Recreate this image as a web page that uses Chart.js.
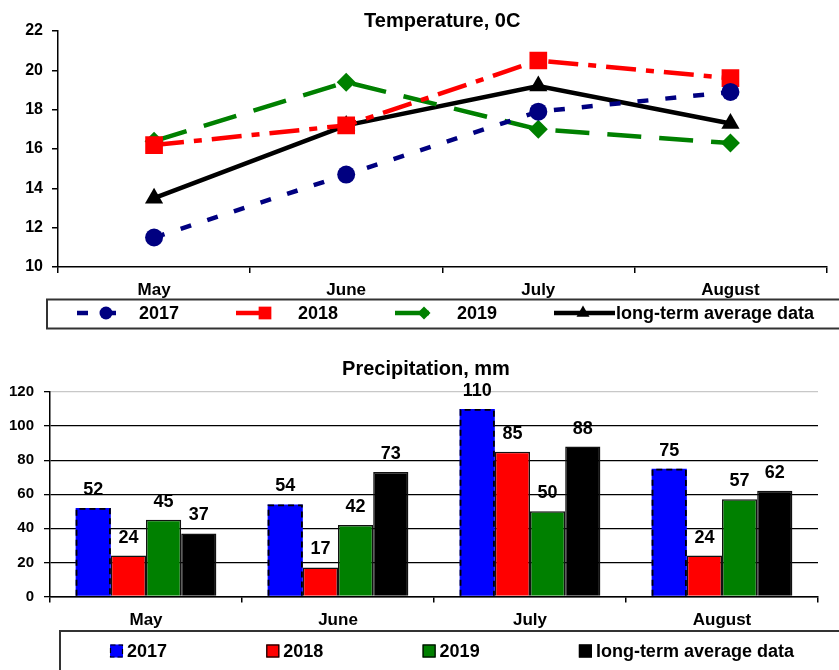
<!DOCTYPE html>
<html>
<head>
<meta charset="utf-8">
<title>Temperature and precipitation, May - August</title>
<script src="https://cdn.jsdelivr.net/npm/chart.js@4.4.1/dist/chart.umd.min.js"></script>
<style>
  body { margin: 0; background: #fff; }
  #wrap { position: relative; width: 839px; height: 670px; overflow: hidden; }
  canvas { position: absolute; left: 0; }
  #tempChart { top: 0; }
  #precChart { top: 340px; }
</style>
</head>
<body>
<div id="wrap">
  <canvas id="tempChart" width="839" height="340"></canvas>
  <canvas id="precChart" width="839" height="330"></canvas>
</div>
<script>
// data
const months = ['May', 'June', 'July', 'August'];
const seriesNames = ['2017', '2018', '2019', 'long-term average data'];

const temp2017 = [11.5, 14.7, 17.9, 18.9];
const temp2018 = [16.2, 17.2, 20.5, 19.6];
const temp2019 = [16.4, 19.4, 17.0, 16.3];
const tempAvg  = [13.5, 17.2, 19.2, 17.3];

const prec2017 = [52, 54, 110, 75];
const prec2018 = [24, 17, 85, 24];
const prec2019 = [45, 42, 50, 57];
const precAvg  = [37, 73, 88, 62];

const FONT = '"Liberation Sans", Arial, Helvetica, sans-serif';
Chart.defaults.font.family = FONT;
Chart.defaults.color = '#000';

// title drawn over the centre of the plot area
const chartTitle = {
    id: 'chartTitle',
    afterDraw(chart, args, opts) {
        const ctx = chart.ctx;
        const area = chart.chartArea;
        ctx.save();
        ctx.font = 'bold 20px ' + FONT;
        ctx.fillStyle = '#000';
        ctx.textAlign = 'center';
        ctx.textBaseline = 'middle';
        ctx.fillText(opts.text, (area.left + area.right) / 2 + (opts.dx || 0), opts.y);
        ctx.restore();
    }
};

// boxed legend under the line chart: line sample + marker + name
const lineLegend = {
    id: 'lineLegend',
    afterDraw(chart) {
        const ctx = chart.ctx;
        const spans = [43, 36, 37, 61];
        const radii = [6.5, 9, 6.5, 7.5];
        const y = 313;
        ctx.save();
        ctx.lineWidth = 2;
        ctx.strokeStyle = '#333';
        ctx.strokeRect(47, 299.5, 820, 29);
        chart.data.datasets.forEach((ds, i) => {
            const x0 = 77 + i * 159;
            ctx.setLineDash(ds.borderDash || []);
            ctx.lineWidth = ds.borderWidth;
            ctx.strokeStyle = ds.borderColor;
            ctx.beginPath();
            ctx.moveTo(x0, y);
            ctx.lineTo(x0 + spans[i], y);
            ctx.stroke();
            ctx.setLineDash([]);
            ctx.fillStyle = ds.borderColor;
            Chart.helpers.drawPoint(ctx, {pointStyle: ds.pointStyle, radius: radii[i], rotation: 0, borderWidth: 0}, x0 + 29, y);
            ctx.fillStyle = '#000';
            ctx.font = 'bold 18px ' + FONT;
            ctx.textAlign = 'left';
            ctx.textBaseline = 'middle';
            ctx.fillText(ds.label, x0 + 62, y + 1);
        });
        ctx.restore();
    }
};

// boxed legend under the bar chart
const barLegend = {
    id: 'barLegend',
    afterDraw(chart) {
        const ctx = chart.ctx;
        const y = 311;
        ctx.save();
        ctx.lineWidth = 2;
        ctx.strokeStyle = '#333';
        ctx.strokeRect(60, 291, 820, 60);
        chart.data.datasets.forEach((ds, i) => {
            const x0 = 110 + i * 156.3;
            ctx.fillStyle = ds.backgroundColor;
            ctx.fillRect(x0, y - 6.5, 13, 13);
            ctx.lineWidth = 1.2;
            ctx.strokeStyle = '#000';
            ctx.setLineDash(i === 0 ? [5, 3] : []);
            ctx.strokeRect(x0 + 0.5, y - 6, 12, 12);
            ctx.setLineDash([]);
            ctx.fillStyle = '#000';
            ctx.font = 'bold 18px ' + FONT;
            ctx.textAlign = 'left';
            ctx.textBaseline = 'middle';
            ctx.fillText(ds.label, x0 + 17, y + 1);
        });
        ctx.restore();
    }
};

// dashed outline of the 2017 bars and value labels above every bar
const barDecor = {
    id: 'barDecor',
    afterDatasetsDraw(chart) {
        const ctx = chart.ctx;
        ctx.save();
        const first = chart.getDatasetMeta(0);
        ctx.strokeStyle = '#000';
        ctx.lineWidth = 1.8;
        ctx.setLineDash([6, 4]);
        first.data.forEach(bar => {
            const p = bar.getProps(['x', 'y', 'base', 'width'], true);
            const l = p.x - p.width / 2 + 0.9, r = p.x + p.width / 2 - 0.9;
            ctx.beginPath();
            ctx.moveTo(l, p.base);
            ctx.lineTo(l, p.y + 0.9);
            ctx.lineTo(r, p.y + 0.9);
            ctx.lineTo(r, p.base);
            ctx.stroke();
        });
        ctx.setLineDash([]);
        ctx.font = 'bold 18px ' + FONT;
        ctx.fillStyle = '#000';
        ctx.textAlign = 'center';
        ctx.textBaseline = 'middle';
        chart.data.datasets.forEach((ds, i) => {
            chart.getDatasetMeta(i).data.forEach((bar, j) => {
                ctx.fillText(String(ds.data[j]), bar.x, bar.y - 18);
            });
        });
        ctx.restore();
    }
};

// Temperature line chart
new Chart(document.getElementById('tempChart').getContext('2d'), {
    type: 'line',
    data: {
        labels: months,
        datasets: [
            { label: seriesNames[0], data: temp2017, borderColor: '#000080', backgroundColor: '#000080',
              borderWidth: 4.5, borderDash: [11, 17], pointStyle: 'circle', pointRadius: 9, pointBorderWidth: 0 },
            { label: seriesNames[1], data: temp2018, borderColor: '#ff0000', backgroundColor: '#ff0000',
              borderWidth: 4.5, borderDash: [30, 10, 8, 10], pointStyle: 'rect', pointRadius: 12.5, pointBorderWidth: 0 },
            { label: seriesNames[2], data: temp2019, borderColor: '#008000', backgroundColor: '#008000',
              borderWidth: 4.5, borderDash: [34, 18], pointStyle: 'rectRot', pointRadius: 9.5, pointBorderWidth: 0 },
            { label: seriesNames[3], data: tempAvg, borderColor: '#000000', backgroundColor: '#000000',
              borderWidth: 4.5, pointStyle: 'triangle', pointRadius: 10.5, pointBorderWidth: 0 }
        ]
    },
    options: {
        responsive: false,
        animation: false,
        layout: { padding: { top: 31, right: 7, bottom: 33, left: 0 } },
        plugins: {
            legend: { display: false },
            tooltip: { enabled: false },
            chartTitle: { text: 'Temperature, 0C', y: 21 }
        },
        scales: {
            x: {
                offset: true,
                grid: { offset: true, drawOnChartArea: false, tickLength: 6, color: '#000', lineWidth: 1.5 },
                border: { color: '#000', width: 1.5 },
                ticks: { font: { size: 17, weight: 'bold' }, padding: 7, color: '#000' },
                afterFit(scale) { scale.height = 40; }
            },
            y: {
                min: 10, max: 22,
                grid: { drawOnChartArea: false, tickLength: 6, color: '#000', lineWidth: 1.5 },
                border: { color: '#000', width: 1.5 },
                ticks: { stepSize: 2, font: { size: 16, weight: 'bold' }, padding: 9, color: '#000' },
                afterFit(scale) { scale.width = 58; }
            }
        }
    },
    plugins: [chartTitle, lineLegend]
});

// Precipitation bar chart
new Chart(document.getElementById('precChart').getContext('2d'), {
    type: 'bar',
    data: {
        labels: months,
        datasets: [
            { label: seriesNames[0], data: prec2017, backgroundColor: '#0000ff', borderWidth: 0 },
            { label: seriesNames[1], data: prec2018, backgroundColor: '#ff0000', borderColor: '#111', borderWidth: 1.5 },
            { label: seriesNames[2], data: prec2019, backgroundColor: '#008000', borderColor: '#111', borderWidth: 1.5 },
            { label: seriesNames[3], data: precAvg, backgroundColor: '#000000', borderColor: '#111', borderWidth: 1.5 }
        ]
    },
    options: {
        responsive: false,
        animation: false,
        datasets: { bar: { barPercentage: 1, categoryPercentage: 0.733 } },
        layout: { padding: { top: 52, right: 21, bottom: 33.5, left: 0 } },
        plugins: {
            legend: { display: false },
            tooltip: { enabled: false },
            chartTitle: { text: 'Precipitation, mm', y: 29, dx: -8 }
        },
        scales: {
            x: {
                grid: { offset: true, drawOnChartArea: false, tickLength: 6, color: '#000', lineWidth: 1.5 },
                border: { color: '#000', width: 1.5 },
                ticks: { font: { size: 17, weight: 'bold' }, padding: 8, color: '#000' },
                afterFit(scale) { scale.height = 40; }
            },
            y: {
                min: 0, max: 120,
                grid: {
                    tickLength: 6,
                    lineWidth: 1.3,
                    color: c => (c.tick && c.tick.value === 120 ? '#c8c8c8' : '#000'),
                    tickColor: '#000'
                },
                border: { color: '#000', width: 1.5 },
                ticks: { stepSize: 20, font: { size: 15, weight: 'bold' }, padding: 10, color: '#000' },
                afterFit(scale) { scale.width = 50; }
            }
        }
    },
    plugins: [chartTitle, barLegend, barDecor]
});
</script>
</body>
</html>
